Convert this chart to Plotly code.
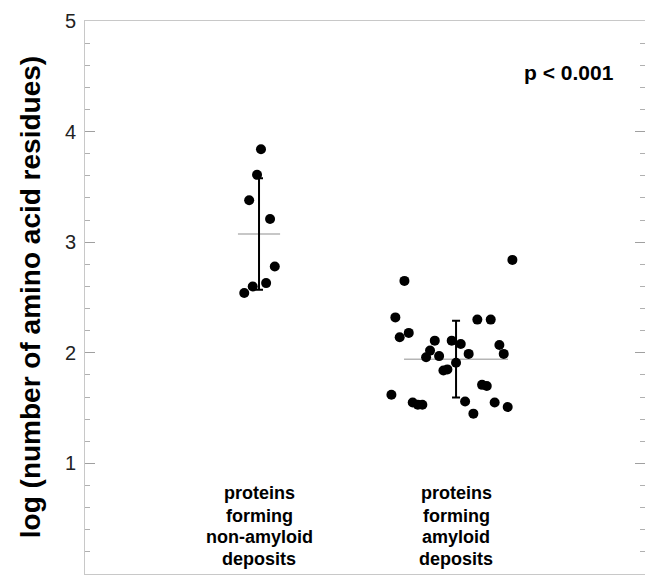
import numpy as np
import plotly.graph_objects as go

# ---- data ----
group_labels = [["proteins", "forming", "non-amyloid", "deposits"],
                ["proteins", "forming", "amyloid", "deposits"]]
group_pos = [1, 2]

nonamyloid_x = [1.010, 0.990, 0.950, 1.056, 1.080, 1.036, 0.968, 0.925]
nonamyloid_y = [3.84, 3.61, 3.38, 3.21, 2.78, 2.63, 2.60, 2.54]

amyloid_x = [2.286, 1.738, 1.692, 2.108, 2.176, 1.760, 1.714, 1.892, 1.978, 2.024,
             2.220, 1.868, 2.242, 2.064, 1.914, 1.848, 2.000, 1.956, 1.936, 2.132,
             2.156, 1.672, 2.046, 2.196, 1.780, 1.806, 1.829, 2.262, 2.088]
amyloid_y = [2.84, 2.65, 2.32, 2.30, 2.30, 2.18, 2.14, 2.11, 2.11, 2.08,
             2.07, 2.02, 1.99, 1.99, 1.97, 1.96, 1.91, 1.85, 1.84, 1.71,
             1.70, 1.62, 1.56, 1.55, 1.55, 1.53, 1.53, 1.51, 1.45]

y_ticks = [0, 1, 2, 3, 4, 5]
p_text = "p < 0.001"
y_title = "log (number of amino acid residues)"

# ---- styling / layout constants ----
FONT = "Arial, Liberation Sans, sans-serif"
mean_half = [0.107, 0.264]
label_line_y = [0.732, 0.524, 0.334, 0.136]

groups_y = [nonamyloid_y, amyloid_y]
means = [float(np.mean(g)) for g in groups_y]
sds = [float(np.std(g, ddof=1)) for g in groups_y]

fig = go.Figure()

# mean lines
for c, m, hw in zip(group_pos, means, mean_half):
    fig.add_trace(go.Scatter(x=[c - hw, c + hw], y=[m, m], mode="lines",
                             line=dict(color="#b5b5b5", width=1.5),
                             hoverinfo="skip", showlegend=False))

# points
for xs, ys in [(nonamyloid_x, nonamyloid_y), (amyloid_x, amyloid_y)]:
    fig.add_trace(go.Scatter(x=xs, y=ys, mode="markers",
                             marker=dict(color="black", size=10),
                             showlegend=False))

# SD error bars
fig.add_trace(go.Scatter(x=group_pos, y=means, mode="markers",
                         marker=dict(size=1, color="rgba(0,0,0,0)"),
                         error_y=dict(type="data", array=sds, symmetric=True,
                                      color="black", thickness=2, width=4),
                         showlegend=False, hoverinfo="skip"))

# invisible trace so the right-hand tick axis is drawn
fig.add_trace(go.Scatter(x=group_pos, y=means, yaxis="y2", mode="markers",
                         marker=dict(size=1, color="rgba(0,0,0,0)"),
                         showlegend=False, hoverinfo="skip"))

# group labels (one annotation per line)
for c, lines in zip(group_pos, group_labels):
    for ly, txt in zip(label_line_y, lines):
        fig.add_annotation(x=c, y=ly, xref="x", yref="y", text="<b>" + txt + "</b>",
                           showarrow=False, xanchor="center", yanchor="middle",
                           font=dict(family=FONT, size=18, color="black"))

fig.add_annotation(x=2.574, y=4.536, xref="x", yref="y", text="<b>" + p_text + "</b>",
                   showarrow=False, xanchor="center", yanchor="middle",
                   font=dict(family=FONT, size=21, color="black"))

fig.add_annotation(x=-0.097, y=0.5, xref="paper", yref="paper",
                   text="<b>" + y_title + "</b>", textangle=-90, showarrow=False,
                   xanchor="center", yanchor="middle",
                   font=dict(family=FONT, size=28, color="black"))

minor_ticks = dict(dtick=0.2, ticks="inside", ticklen=5, tickcolor="#b0b0b0")

fig.update_layout(
    width=645, height=577,
    margin=dict(l=85, r=0, t=21, b=3, autoexpand=False),
    paper_bgcolor="white", plot_bgcolor="white",
    xaxis=dict(range=[0.1168, 2.959], showgrid=False, zeroline=False, automargin=False,
               showticklabels=False, ticks="", showline=True, linecolor="#c8c8c8",
               linewidth=1, mirror=True),
    yaxis=dict(range=[0, 5], tickvals=y_ticks, showgrid=False, zeroline=False,
               automargin=False,
               ticks="inside", ticklen=10, tickcolor="#a0a0a0", tickwidth=1,
               showline=True, linecolor="#c8c8c8", linewidth=1, mirror=False,
               tickfont=dict(family=FONT, size=20, color="#222222"),
               ticklabelstandoff=4, minor=minor_ticks),
    yaxis2=dict(range=[0, 5], tickvals=y_ticks, overlaying="y", side="right",
                showgrid=False, zeroline=False, automargin=False, showline=False,
                showticklabels=False, ticks="inside", ticklen=10,
                tickcolor="#a0a0a0", tickwidth=1, minor=minor_ticks),
    font=dict(family=FONT),
)

fig.write_html(
    "out.html",
    config={"displayModeBar": False},
    post_script="document.body.style.margin='0';document.body.style.overflow='hidden';",
)
